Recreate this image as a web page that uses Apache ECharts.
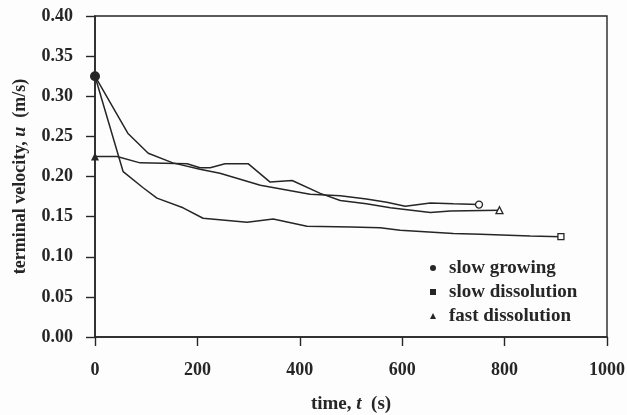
<!DOCTYPE html>
<html>
<head>
<meta charset="utf-8">
<script src="https://cdn.jsdelivr.net/npm/echarts@6/dist/echarts.min.js"></script>
<style>
  html, body { margin: 0; padding: 0; background: #fdfdfd; }
  #chart { width: 627px; height: 415px; }
</style>
</head>
<body>
<div id="chart"></div>
<script>
// data: time (s) and terminal velocity (m/s)
var growTime = [0, 64, 104, 152, 205, 244, 323, 420, 479, 530, 570, 606, 655, 700, 750];
var growVel  = [0.325, 0.254, 0.229, 0.217, 0.209, 0.204, 0.189, 0.178, 0.176, 0.172, 0.168, 0.163, 0.167, 0.166, 0.165];

var slowTime = [0, 55, 94, 121, 172, 211, 297, 348, 414, 500, 557, 596, 700, 753, 850, 910];
var slowVel  = [0.325, 0.206, 0.186, 0.173, 0.161, 0.148, 0.143, 0.147, 0.138, 0.137, 0.136, 0.133, 0.129, 0.128, 0.126, 0.125];

var fastTime = [0, 43, 88, 180, 205, 225, 254, 299, 342, 385, 440, 479, 530, 577, 655, 694, 790];
var fastVel  = [0.225, 0.225, 0.217, 0.216, 0.211, 0.211, 0.216, 0.216, 0.193, 0.195, 0.179, 0.170, 0.166, 0.161, 0.155, 0.157, 0.158];

var xTicks = [0, 200, 400, 600, 800, 1000];
var yTicks = [0, 0.05, 0.10, 0.15, 0.20, 0.25, 0.30, 0.35, 0.40];

var ink = '#262626';

// first point: filled marker, last point: open marker, nothing in between
function buildData(times, vals, sym, startSize, endSize) {
  var out = [];
  for (var i = 0; i < times.length; i++) {
    var item = { value: [times[i], vals[i]], symbolSize: 0 };
    if (i === 0) {
      item.symbol = sym;
      item.symbolSize = startSize;
      item.itemStyle = { color: ink, borderWidth: 0 };
    } else if (i === times.length - 1) {
      item.symbol = sym;
      item.symbolSize = endSize;
      item.itemStyle = { color: '#fdfdfd', borderColor: ink, borderWidth: 1.3 };
    }
    out.push(item);
  }
  return out;
}

var serif = '"Liberation Serif", "DejaVu Serif", serif';
var legendMark = { color: ink, borderWidth: 0 };

var chart = echarts.init(document.getElementById('chart'));
chart.setOption({
  backgroundColor: '#fdfdfd',
  animation: false,
  grid: {
    left: 95,
    right: 20,
    top: 16,
    bottom: 78,
    outerBoundsMode: 'none',
    show: true,
    borderColor: ink,
    borderWidth: 1.4,
    backgroundColor: 'transparent'
  },
  legend: {
    orient: 'vertical',
    left: 425,
    top: 251,
    itemWidth: 6,
    itemHeight: 6,
    itemGap: 0,
    itemStyle: legendMark,
    textStyle: {
      fontFamily: serif,
      fontSize: 19,
      fontWeight: 'bold',
      color: ink,
      lineHeight: 24,
      padding: [0, 0, 0, 8]
    },
    data: [
      { name: 'slow growing', icon: 'circle', itemStyle: legendMark },
      { name: 'slow dissolution', icon: 'rect', itemStyle: legendMark },
      { name: 'fast dissolution', icon: 'triangle', itemStyle: legendMark }
    ]
  },
  xAxis: {
    type: 'value',
    min: xTicks[0],
    max: xTicks[xTicks.length - 1],
    interval: 200,
    name: '{b|time, }{i|t}{b|  (s)}',
    nameLocation: 'middle',
    nameGap: 58,
    nameTextStyle: {
      rich: {
        b: { fontFamily: serif, fontSize: 19, fontWeight: 'bold', color: ink },
        i: { fontFamily: serif, fontSize: 19, fontWeight: 'bold', fontStyle: 'italic', color: ink }
      }
    },
    axisLine: { show: true, onZero: false, lineStyle: { color: ink, width: 1.6 } },
    axisTick: { show: true, length: 9, lineStyle: { color: ink, width: 1.4 } },
    axisLabel: {
      margin: 24,
      fontFamily: serif,
      fontSize: 18,
      fontWeight: 'bold',
      color: ink,
      formatter: function (v) { return String(v); }
    },
    splitLine: { show: false }
  },
  yAxis: {
    type: 'value',
    min: yTicks[0],
    max: yTicks[yTicks.length - 1],
    interval: 0.05,
    name: '{b|terminal velocity, }{i|u}{b|  (m/s)}',
    nameLocation: 'middle',
    nameRotate: 90,
    nameGap: 66,
    nameTextStyle: {
      rich: {
        b: { fontFamily: serif, fontSize: 18, fontWeight: 'bold', color: ink },
        i: { fontFamily: serif, fontSize: 18, fontWeight: 'bold', fontStyle: 'italic', color: ink }
      }
    },
    axisLine: { show: true, onZero: false, lineStyle: { color: ink, width: 1.6 } },
    axisTick: { show: true, length: 9, lineStyle: { color: ink, width: 1.4 } },
    axisLabel: {
      margin: 22,
      fontFamily: serif,
      fontSize: 18,
      fontWeight: 'bold',
      color: ink,
      formatter: function (v) { return v.toFixed(2); }
    },
    splitLine: { show: false }
  },
  series: [
    {
      name: 'slow dissolution',
      type: 'line',
      symbol: 'rect',
      showAllSymbol: true,
      color: ink,
      lineStyle: { color: ink, width: 1.5 },
      data: buildData(slowTime, slowVel, 'rect', 6, 6)
    },
    {
      name: 'fast dissolution',
      type: 'line',
      symbol: 'triangle',
      showAllSymbol: true,
      color: ink,
      lineStyle: { color: ink, width: 1.5 },
      data: buildData(fastTime, fastVel, 'triangle', 8, 7)
    },
    {
      name: 'slow growing',
      type: 'line',
      symbol: 'circle',
      showAllSymbol: true,
      color: ink,
      lineStyle: { color: ink, width: 1.5 },
      data: buildData(growTime, growVel, 'circle', 10, 7)
    }
  ]
});
</script>
</body>
</html>
